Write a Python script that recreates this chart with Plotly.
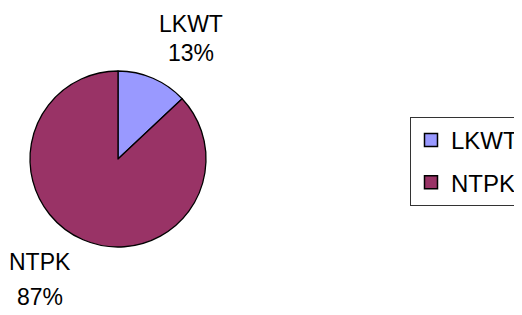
import plotly.graph_objects as go

# Data
labels = ["LKWT", "NTPK"]
values = [13, 87]
colors = ["#9999FF", "#993366"]

total = sum(values)
pcts = [round(v / total * 100) for v in values]

FONT = "Liberation Sans, Arial, sans-serif"
W, H = 522, 315
OFF = 8  # page body margin offset

def px(x):
    return (x - OFF) / W

def py(y):
    return 1 - (y - OFF) / H

fig = go.Figure()

fig.add_trace(go.Pie(
    labels=labels,
    values=values,
    sort=False,
    direction="clockwise",
    rotation=0,
    marker=dict(colors=colors, line=dict(color="black", width=1.3)),
    textinfo="none",
    hoverinfo="label+percent",
    showlegend=False,
    domain=dict(x=[px(30), px(206)], y=[py(247), py(71)]),
))

# Legend entries (one per slice, separate groups so spacing can be set)
for lab, col in zip(labels, colors):
    fig.add_trace(go.Scatter(
        x=[None], y=[None], mode="markers", name=lab, legendgroup=lab,
        marker=dict(symbol="square", size=13, color=col,
                    line=dict(color="black", width=1.5)),
        showlegend=True, hoverinfo="skip",
    ))

# Outside labels (positions are layout constants; text from the data)
label_pos = [(191, 10, 53), (40, 262, 297)]
for i, (lab, p, (cx, y1, y2)) in enumerate(zip(labels, pcts, label_pos)):
    if i == 0:
        fig.add_annotation(x=px(cx), y=py(y1), xref="paper", yref="paper",
                           text=lab, showarrow=False, xanchor="center", yanchor="top",
                           borderpad=0,
                           font=dict(family=FONT, size=23, color="black"))
    else:
        fig.add_annotation(x=px(cx), y=py(y1), xref="paper", yref="paper",
                           text=lab, showarrow=False, xanchor="center", yanchor="middle",
                           font=dict(family=FONT, size=23, color="black"))
    fig.add_annotation(x=px(cx), y=py(y2), xref="paper", yref="paper",
                       text=f"{p}%", showarrow=False, xanchor="center", yanchor="middle",
                       font=dict(family=FONT, size=23, color="black"))

fig.update_layout(
    width=W, height=H,
    margin=dict(l=0, r=0, t=0, b=0),
    paper_bgcolor="white", plot_bgcolor="white",
    xaxis=dict(visible=False), yaxis=dict(visible=False),
    legend=dict(
        x=px(410), y=py(117), xanchor="left", yanchor="top",
        bordercolor="#333333", borderwidth=1, bgcolor="white",
        font=dict(family=FONT, size=24, color="black"),
        tracegroupgap=8, itemwidth=30,
    ),
    font=dict(family=FONT),
)

fig.write_html("out.html")
